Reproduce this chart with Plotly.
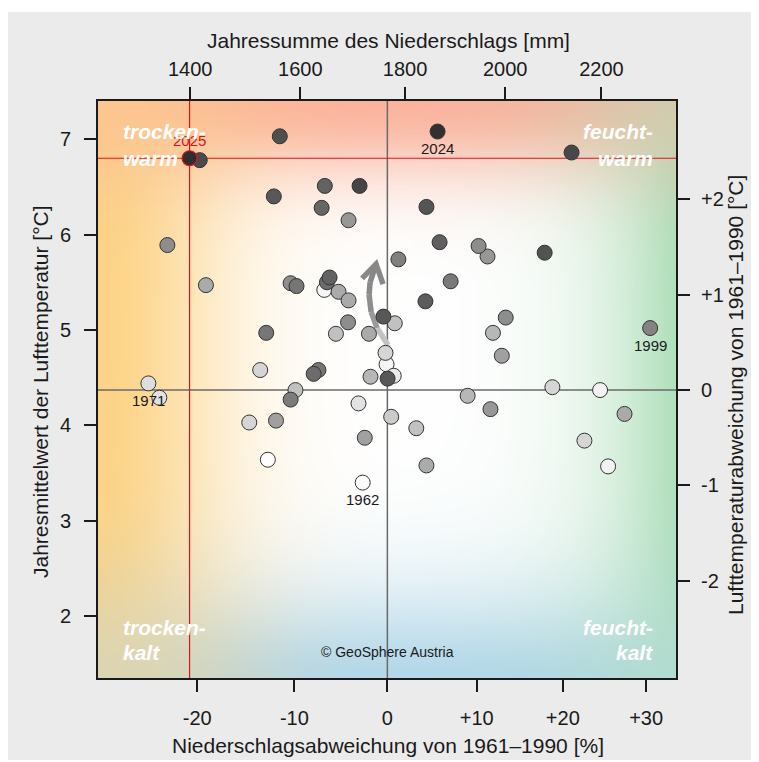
import base64
import struct
import zlib

import numpy as np
import plotly.graph_objects as go

# ---------------- data ----------------
NORMAL_MM = 1765.6      # 1961-1990 mean annual precipitation [mm]
NORMAL_T = 4.37         # 1961-1990 mean annual temperature [degC]
AXIS_POWER = 0.6        # precipitation axis is power-scaled

precip_mm = [1562, 1399, 1417, 1551, 1646, 1712, 1640, 1691, 1360, 1428,
             1582, 1593, 1655, 1650, 1645, 1672, 1691, 1690, 1667, 1730,
             1758, 1787, 1537, 1526, 1634, 1625, 1762, 1764, 1733, 1766,
             1327, 1346, 1591, 1582, 1506, 1555, 1710, 1722, 1540, 1718,
             1773, 1864, 2137, 1842, 1868, 1946, 1964, 2081, 1890, 1840,
             1780, 2001, 1975, 1993, 2304, 1778, 2097, 2197, 1924, 1970,
             1822, 1842, 2249, 2164, 2214]
temp_c = [7.03, 6.80, 6.78, 6.40, 6.51, 6.51, 6.28, 6.15, 5.89, 5.47,
          5.49, 5.46, 5.55, 5.50, 5.42, 5.40, 5.31, 5.08, 4.96, 4.96,
          5.14, 5.74, 4.97, 4.58, 4.58, 4.54, 4.76, 4.64, 4.51, 4.49,
          4.44, 4.29, 4.37, 4.27, 4.03, 4.05, 4.23, 3.87, 3.64, 3.40,
          4.09, 7.08, 6.86, 6.29, 5.92, 5.88, 5.77, 5.81, 5.51, 5.30,
          5.07, 5.13, 4.97, 4.73, 5.02, 4.52, 4.40, 4.37, 4.31, 4.17,
          3.97, 3.58, 4.12, 3.84, 3.57]
# years: labelled ones exact, the others estimated from the grey shading
years = [2015, 2025, 2016, 2012, 2009, 2018, 2008, 1993, 1996, 1987,
         1996, 2003, 2009, 2006, 1964, 1987, 1987, 1996, 1980, 1987,
         2012, 2000, 2003, 1974, 2003, 2006, 1974, 1964, 1983, 2012,
         1971, 1970, 1980, 2001, 1974, 1990, 1970, 1990, 1961, 1962,
         1977, 2024, 2017, 2013, 2010, 1996, 1993, 2014, 2002, 2011,
         1980, 1996, 1983, 1990, 1999, 1967, 1974, 1965, 1983, 1993,
         1980, 1987, 1987, 1974, 1965]
label_years = [2025, 2024, 1999, 1971, 1962]
label_above = [True, False, False, False, False]
highlight_year = 2025

bottom_ticks_pct = [-20, -10, 0, 10, 20, 30]
bottom_tick_text = ["-20", "-10", "0", "+10", "+20", "+30"]
top_ticks_mm = [1400, 1600, 1800, 2000, 2200]
left_ticks = [2, 3, 4, 5, 6, 7]
right_ticks = [-2, -1, 0, 1, 2]
right_tick_text = ["-2", "-1", "0", "+1", "+2"]

x_range_mm = [1241, 2360]
y_range = [1.352, 7.40]

# trend arrow (precip. deviation %, temperature anomaly degC)
arrow_pct = [0.40, 0.08, -1.13, -1.78, -2.00, -1.89, -1.24]
arrow_anom = [0.23, 0.47, 0.65, 0.82, 1.00, 1.13, 1.32]
arrow_wing_pct = [-2.76, -1.24, -0.47]
arrow_wing_anom = [1.17, 1.32, 1.11]

# ---------------- helpers ----------------
def xt_mm(mm):
    return (np.asarray(mm, dtype=float) / NORMAL_MM) ** AXIS_POWER

def xt_pct(p):
    return (1 + np.asarray(p, dtype=float) / 100.0) ** AXIS_POWER

# page offset of the figure div (default body margin)
OFF = 8
FIG_W, FIG_H = 759 - OFF, 762 - OFF
# plot area in page pixels
PL, PR, PT, PB = 98, 676, 101, 678
ML, MT = PL - OFF, PT - OFF
MR, MB = FIG_W - (PR - OFF), FIG_H - (PB - OFF)
PW, PH = PR - PL, PB - PT

def px2x(px):
    return (px - PL) / PW

def py2y(py):
    return (PB - py) / PH

def png_data_uri(arr):
    h, w, _ = arr.shape
    raw = b"".join(b"\x00" + arr[i].tobytes() for i in range(h))

    def chunk(tag, data):
        c = struct.pack(">I", len(data)) + tag + data
        return c + struct.pack(">I", zlib.crc32(tag + data) & 0xFFFFFFFF)

    png = (b"\x89PNG\r\n\x1a\n"
           + chunk(b"IHDR", struct.pack(">IIBBBBB", w, h, 8, 2, 0, 0, 0))
           + chunk(b"IDAT", zlib.compress(raw, 9))
           + chunk(b"IEND", b""))
    return "data:image/png;base64," + base64.b64encode(png).decode()

# ---------------- background gradient ----------------
U, V = np.meshgrid((np.arange(PW) + 0.5) / PW, (np.arange(PH) + 0.5) / PH)
w_dry = np.exp(-((U * PW) / 128.0) ** 2)
w_wet = np.exp(-(((1 - U) * PW) / 80.0) ** 1.3)
w_warm = np.exp(-((V * PH) / 80.0) ** 2)
w_cold = np.exp(-(((1 - V) * PH) / 92.0) ** 1.7)
c_dry = np.array([253, 212, 135], float)
c_wet = np.array([178, 224, 188], float)
c_warm = np.array([251, 180, 158], float)
c_cold = np.array([180, 216, 234], float)
HW = 1.3  # horizontal tints dominate slightly in the corners
wts = [HW * w_dry, HW * w_wet, w_warm, w_cold]
cols = [c_dry, c_wet, c_warm, c_cold]
wsum = sum(wts)[..., None]
tint = sum(w[..., None] * c for w, c in zip(wts, cols)) / np.maximum(wsum, 1e-9)
alpha = (1 - (1 - w_dry) * (1 - w_wet) * (1 - w_warm) * (1 - w_cold))[..., None]
col = (1 - alpha) * 255 + alpha * tint
bg_img = np.clip(col, 0, 255).astype(np.uint8)

# ---------------- figure ----------------
FONT = "Liberation Sans, Arial, sans-serif"
fig = go.Figure()

# arrow (gradient from light to darker grey)
ax_ = xt_pct(arrow_pct)
ay_ = NORMAL_T + np.asarray(arrow_anom)
seg_cols = ["#dedede", "#c2c2c2", "#9a9a9a", "#8e8e8e", "#8a8a8a", "#888888"]
for i in range(len(ax_) - 1):
    fig.add_trace(go.Scatter(x=ax_[i:i + 2], y=ay_[i:i + 2], mode="lines",
                             line=dict(color=seg_cols[i], width=5.5),
                             hoverinfo="skip", showlegend=False))
fig.add_trace(go.Scatter(x=xt_pct(arrow_wing_pct), y=NORMAL_T + np.asarray(arrow_wing_anom),
                         mode="lines", line=dict(color="#888888", width=5.5),
                         hoverinfo="skip", showlegend=False))

# points, drawn in chronological order
order = np.argsort(years, kind="stable")
xs = xt_mm(precip_mm)[order]
ys = np.asarray(temp_c)[order]
yrs = np.asarray(years)[order]
line_cols = ["#e3101a" if y == highlight_year else "#333333" for y in yrs]
line_w = [1.2 if y == highlight_year else 1.0 for y in yrs]
fig.add_trace(go.Scatter(
    x=xs, y=ys, mode="markers",
    marker=dict(size=15, color=yrs, cmin=1961, cmax=2025,
                colorscale=[[0, "#ffffff"], [1, "#2e2e2e"]],
                line=dict(color=line_cols, width=line_w)),
    hoverinfo="skip", showlegend=False))

# dummy traces to activate the secondary axes
fig.add_trace(go.Scatter(x=xt_mm(x_range_mm), y=y_range, xaxis="x2", yaxis="y",
                         mode="markers", marker=dict(opacity=0), hoverinfo="skip", showlegend=False))
fig.add_trace(go.Scatter(x=xt_mm(x_range_mm), y=[r - NORMAL_T for r in y_range], xaxis="x", yaxis="y2",
                         mode="markers", marker=dict(opacity=0), hoverinfo="skip", showlegend=False))

# reference lines
hx = float(xt_mm(precip_mm[years.index(highlight_year)]))
hy = temp_c[years.index(highlight_year)]
shapes = [
    dict(type="line", xref="x", yref="paper", x0=1, x1=1, y0=0, y1=1,
         line=dict(color="#6a6a6a", width=1.5), layer="below"),
    dict(type="line", xref="paper", yref="y", x0=0, x1=1, y0=NORMAL_T, y1=NORMAL_T,
         line=dict(color="#6a6a6a", width=1.5), layer="below"),
    dict(type="line", xref="x", yref="paper", x0=hx, x1=hx, y0=0, y1=1,
         line=dict(color="#e3101a", width=1.2), layer="below"),
    dict(type="line", xref="paper", yref="y", x0=0, x1=1, y0=hy, y1=hy,
         line=dict(color="#e3101a", width=1.2), layer="below"),
    # white margins around the grey page
    dict(type="rect", xref="paper", yref="paper", x0=px2x(0), x1=px2x(760), y0=py2y(12), y1=py2y(0),
         fillcolor="white", line=dict(width=0)),
    dict(type="rect", xref="paper", yref="paper", x0=px2x(0), x1=px2x(760), y0=py2y(770), y1=py2y(760),
         fillcolor="white", line=dict(width=0)),
]

annotations = []
# year labels
for yr, above in zip(label_years, label_above):
    i = years.index(yr)
    annotations.append(dict(
        x=float(xt_mm(precip_mm[i])), y=temp_c[i], xref="x", yref="y",
        text=str(yr), showarrow=False, yshift=18 if above else -17,
        font=dict(family=FONT, size=15, color="#e3101a" if yr == highlight_year else "#1a1a1a")))

# corner labels
corner = [("trocken-", 121, 131, "left"), ("warm", 121, 158, "left"),
          ("feucht-", 655, 131, "right"), ("warm", 655, 158, "right"),
          ("trocken-", 121, 627, "left"), ("kalt", 121, 652, "left"),
          ("feucht-", 655, 627, "right"), ("kalt", 655, 652, "right")]
for txt, px, py, anc in corner:
    annotations.append(dict(x=px2x(px), y=py2y(py), xref="paper", yref="paper",
                            text="<b><i>%s</i></b>" % txt, showarrow=False,
                            xanchor=anc, yanchor="middle",
                            font=dict(family=FONT, size=21, color="white")))

annotations.append(dict(x=px2x(387), y=py2y(652), xref="paper", yref="paper",
                        text="© GeoSphere Austria", showarrow=False,
                        xanchor="center", yanchor="middle",
                        font=dict(family=FONT, size=14, color="#1a1a1a")))

# axis titles
TF = dict(family=FONT, size=21, color="#1a1a1a")
annotations += [
    dict(x=px2x(388), y=py2y(40), xref="paper", yref="paper", showarrow=False,
         text="Jahressumme des Niederschlags [mm]", font=TF, xanchor="center", yanchor="middle"),
    dict(x=px2x(388), y=py2y(745), xref="paper", yref="paper", showarrow=False,
         text="Niederschlagsabweichung von 1961–1990 [%]", font=TF, xanchor="center", yanchor="middle"),
    dict(x=px2x(40), y=py2y(392), xref="paper", yref="paper", showarrow=False, textangle=-90,
         text="Jahresmittelwert der Lufttemperatur [°C]", font=TF, xanchor="center", yanchor="middle"),
    dict(x=px2x(736), y=py2y(395), xref="paper", yref="paper", showarrow=False, textangle=-90,
         text="Lufttemperaturabweichung von 1961–1990 [°C]", font=TF, xanchor="center", yanchor="middle"),
]

TICKF = dict(family=FONT, size=20, color="#1a1a1a")
axis_common = dict(showgrid=False, zeroline=False, showline=True, linecolor="#1a1a1a",
                   linewidth=2, ticks="outside", ticklen=12, tickwidth=2,
                   tickcolor="#1a1a1a", tickfont=TICKF, fixedrange=True)

fig.update_layout(
    width=FIG_W, height=FIG_H,
    margin=dict(l=ML, r=MR, t=MT, b=MB, pad=0),
    paper_bgcolor="#ebebeb", plot_bgcolor="white",
    showlegend=False,
    shapes=shapes, annotations=annotations,
    images=[dict(source=png_data_uri(bg_img), xref="paper", yref="paper",
                 x=0, y=1, sizex=1, sizey=1, xanchor="left", yanchor="top",
                 sizing="stretch", layer="below")],
    xaxis=dict(range=list(xt_mm(x_range_mm)), tickmode="array",
               tickvals=list(xt_pct(bottom_ticks_pct)), ticktext=bottom_tick_text,
               ticklabelstandoff=9, **axis_common),
    xaxis2=dict(range=list(xt_mm(x_range_mm)), tickmode="array", overlaying="x", side="top",
                anchor="y", tickvals=list(xt_mm(top_ticks_mm)),
                ticktext=[str(t) for t in top_ticks_mm], ticklabelstandoff=3, **axis_common),
    yaxis=dict(range=y_range, tickmode="array", tickvals=left_ticks,
               ticktext=[str(t) for t in left_ticks], ticklabelstandoff=9, **axis_common),
    yaxis2=dict(range=[r - NORMAL_T for r in y_range], tickmode="array", overlaying="y",
                side="right", anchor="x", tickvals=right_ticks, ticktext=right_tick_text,
                ticklabelstandoff=7, **axis_common),
)

fig.write_html("out.html")
